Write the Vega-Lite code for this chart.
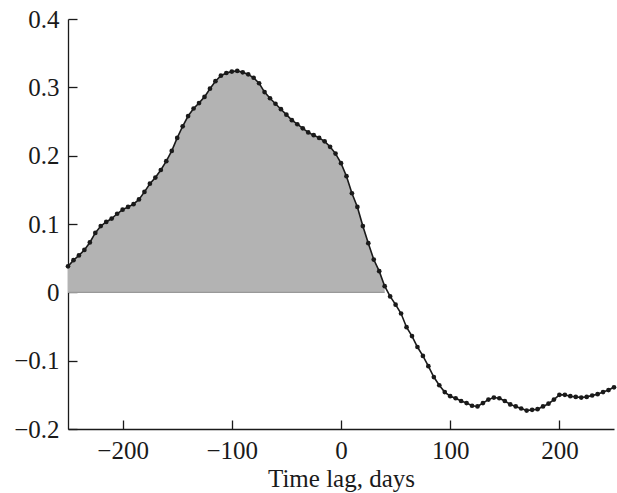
{
  "$schema": "https://vega.github.io/schema/vega-lite/v6.json",
  "autosize": "none",
  "width": 546,
  "height": 410,
  "padding": {"left": 68, "top": 19, "right": 3, "bottom": 64},
  "config": {
    "view": {"stroke": null},
    "font": "Liberation Serif"
  },
  "data": {"values": [
    {"lag": -250, "r": 0.038}, {"lag": -245, "r": 0.047}, {"lag": -240, "r": 0.054}, {"lag": -235, "r": 0.062},
    {"lag": -230, "r": 0.073}, {"lag": -225, "r": 0.087}, {"lag": -220, "r": 0.097}, {"lag": -215, "r": 0.103},
    {"lag": -210, "r": 0.108}, {"lag": -205, "r": 0.115}, {"lag": -200, "r": 0.121}, {"lag": -195, "r": 0.125},
    {"lag": -190, "r": 0.129}, {"lag": -185, "r": 0.136}, {"lag": -180, "r": 0.147}, {"lag": -175, "r": 0.159},
    {"lag": -170, "r": 0.168}, {"lag": -165, "r": 0.179}, {"lag": -160, "r": 0.192}, {"lag": -155, "r": 0.207},
    {"lag": -150, "r": 0.226}, {"lag": -145, "r": 0.243}, {"lag": -140, "r": 0.258}, {"lag": -135, "r": 0.269},
    {"lag": -130, "r": 0.277}, {"lag": -125, "r": 0.286}, {"lag": -120, "r": 0.298}, {"lag": -115, "r": 0.309},
    {"lag": -110, "r": 0.317}, {"lag": -105, "r": 0.321}, {"lag": -100, "r": 0.323}, {"lag": -95, "r": 0.324},
    {"lag": -90, "r": 0.322}, {"lag": -85, "r": 0.319}, {"lag": -80, "r": 0.314}, {"lag": -75, "r": 0.306},
    {"lag": -70, "r": 0.293}, {"lag": -65, "r": 0.284}, {"lag": -60, "r": 0.276}, {"lag": -55, "r": 0.268},
    {"lag": -50, "r": 0.26}, {"lag": -45, "r": 0.252}, {"lag": -40, "r": 0.246}, {"lag": -35, "r": 0.24},
    {"lag": -30, "r": 0.234}, {"lag": -25, "r": 0.23}, {"lag": -20, "r": 0.226}, {"lag": -15, "r": 0.221},
    {"lag": -10, "r": 0.213}, {"lag": -5, "r": 0.203}, {"lag": 0, "r": 0.189}, {"lag": 5, "r": 0.17},
    {"lag": 10, "r": 0.145}, {"lag": 15, "r": 0.125}, {"lag": 20, "r": 0.097}, {"lag": 25, "r": 0.072},
    {"lag": 30, "r": 0.048}, {"lag": 35, "r": 0.031}, {"lag": 40, "r": 0.009}, {"lag": 45, "r": -0.006},
    {"lag": 50, "r": -0.018}, {"lag": 55, "r": -0.031}, {"lag": 60, "r": -0.051}, {"lag": 65, "r": -0.064},
    {"lag": 70, "r": -0.08}, {"lag": 75, "r": -0.093}, {"lag": 80, "r": -0.108}, {"lag": 85, "r": -0.124},
    {"lag": 90, "r": -0.136}, {"lag": 95, "r": -0.146}, {"lag": 100, "r": -0.152}, {"lag": 105, "r": -0.155},
    {"lag": 110, "r": -0.159}, {"lag": 115, "r": -0.162}, {"lag": 120, "r": -0.166}, {"lag": 125, "r": -0.167},
    {"lag": 130, "r": -0.162}, {"lag": 135, "r": -0.157}, {"lag": 140, "r": -0.154}, {"lag": 145, "r": -0.155},
    {"lag": 150, "r": -0.159}, {"lag": 155, "r": -0.164}, {"lag": 160, "r": -0.167}, {"lag": 165, "r": -0.17},
    {"lag": 170, "r": -0.173}, {"lag": 175, "r": -0.172}, {"lag": 180, "r": -0.171}, {"lag": 185, "r": -0.167},
    {"lag": 190, "r": -0.163}, {"lag": 195, "r": -0.157}, {"lag": 200, "r": -0.15}, {"lag": 205, "r": -0.15},
    {"lag": 210, "r": -0.152}, {"lag": 215, "r": -0.153}, {"lag": 220, "r": -0.154}, {"lag": 225, "r": -0.153},
    {"lag": 230, "r": -0.151}, {"lag": 235, "r": -0.149}, {"lag": 240, "r": -0.146}, {"lag": 245, "r": -0.143},
    {"lag": 250, "r": -0.139}
  ]},
  "encoding": {
    "x": {
      "field": "lag", "type": "quantitative",
      "scale": {"domain": [-250, 250], "nice": false, "zero": false},
      "axis": {
        "values": [-200, -100, 0, 100, 200], "title": "Time lag, days", "format": "d",
        "labelFont": "Liberation Serif", "titleFont": "Liberation Serif",
        "labelFontSize": 25, "titleFontSize": 25, "titleFontWeight": "normal",
        "labelColor": "#1a1a1a", "titleColor": "#1a1a1a",
        "domainColor": "#1a1a1a", "tickColor": "#1a1a1a", "domainWidth": 1.3, "tickWidth": 1.3,
        "grid": false, "tickSize": -9, "labelPadding": 18, "titlePadding": 3
      }
    },
    "y": {
      "field": "r", "type": "quantitative",
      "scale": {"domain": [-0.2, 0.4], "nice": false, "zero": false},
      "axis": {
        "values": [-0.2, -0.1, 0, 0.1, 0.2, 0.3, 0.4], "title": null, "format": ".1~f",
        "labelFont": "Liberation Serif", "labelFontSize": 25, "labelColor": "#1a1a1a",
        "domainColor": "#1a1a1a", "tickColor": "#1a1a1a", "domainWidth": 1.3, "tickWidth": 1.3,
        "grid": false, "tickSize": -9, "labelPadding": 18
      }
    }
  },
  "layer": [
    {
      "transform": [{"filter": "datum.r >= 0"}],
      "mark": {"type": "area", "color": "#b3b3b3", "opacity": 1},
      "encoding": {"y2": {"datum": 0}}
    },
    {
      "transform": [{"filter": "datum.r >= 0"}],
      "mark": {"type": "line", "color": "#999999", "strokeWidth": 1.2},
      "encoding": {"y": {"datum": 0}}
    },
    {
      "mark": {"type": "line", "color": "#1a1a1a", "strokeWidth": 1.6}
    },
    {
      "mark": {"type": "circle", "color": "#1a1a1a", "opacity": 1, "size": 22}
    }
  ]
}
